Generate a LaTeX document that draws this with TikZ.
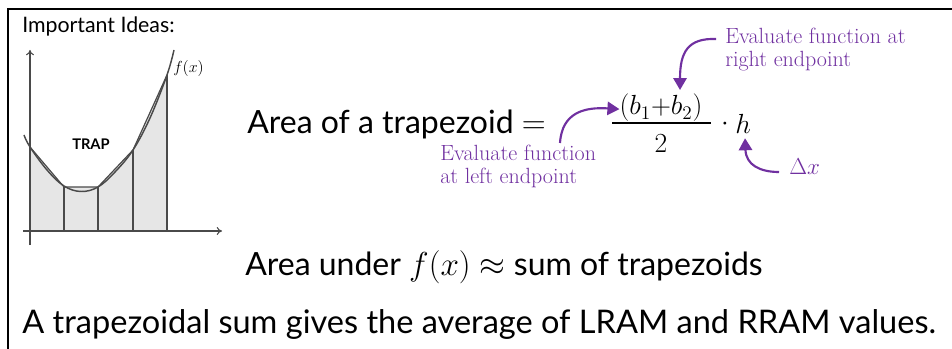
\documentclass[tikz,border=0pt]{standalone}
\usepackage{fontspec}
\usetikzlibrary{arrows.meta,calc}
\newfontfamily\avenir{Lato}
\definecolor{ppl}{HTML}{7030A0}
\definecolor{gline}{HTML}{4A4A4A}
\definecolor{gfill}{HTML}{E6E6E6}
\begin{document}
\begin{tikzpicture}[x=0.75pt,y=-0.75pt,
  bigtxt/.style={font=\avenir\fontsize{24}{28}\selectfont, inner sep=0pt, anchor=base west},
  mathtxt/.style={font=\fontsize{22}{26}\selectfont, inner sep=0pt},
  note/.style={text=ppl, font=\rmfamily\fontsize{16.5}{19}\selectfont, inner sep=0pt, align=left, anchor=north west},
  parrow/.style={draw=ppl, line width=1.6pt, -{Triangle[length=9pt,width=10pt]}},
  axis/.style={draw=gline, line width=0.8pt, -{To[length=4pt,width=6pt]}},
  gl/.style={draw=gline, line width=0.9pt}]
\useasboundingbox (0,0) rectangle (952,349);
% frame
\draw[line width=1.6pt] (8,349) -- (8,9) -- (952,9);
% title
\node[bigtxt, font=\avenir\fontsize{16}{18}\selectfont] (title) at (22,33) {Important Ideas:};
% graph
\fill[gfill] (30,231) -- (30,147) -- (64,187) -- (98,187) -- (133,150) -- (167,75) -- (167,231) -- cycle;
\draw[gl] (30,147) -- (64,187) -- (98,187) -- (133,150) -- (167,75);
\draw[gl] (64,231) -- (64,187) (98,231) -- (98,187) (133,231) -- (133,150) (167,231) -- (167,75);
\draw[gl, line width=1.1pt] plot[smooth, tension=0.6] coordinates {(24,135) (30,147) (47,170) (64,186) (81,191.5) (98,187) (115,172) (133,150) (150,118) (167,75) (174,50)};
\draw[axis] (30,245) -- (30,50);
\draw[axis] (23,231) -- (222,231);
\node[inner sep=0pt, anchor=west, font=\fontsize{12}{14}\selectfont] (fx) at (173,69) {$f(x)$};
\node[inner sep=0pt, font=\avenir\bfseries\fontsize{11}{13}\selectfont] (trap) at (91,144) {TRAP};
% formula
\node[bigtxt] (area) at (247,133) {Area of a trapezoid $=$};
\node[mathtxt, anchor=base] (num) at (661,115) {$(b_1{+}b_2)$};
\draw[line width=1.4pt] (612,123) -- (711,123);
\node[mathtxt, anchor=base, font=\fontsize{20}{24}\selectfont] (den) at (661,152) {$2$};
\node[mathtxt, anchor=base] (dot) at (725,131) {$\cdot$};
\node[mathtxt, anchor=base west] (h) at (735,133) {$h$};
% notes
\node[note] (lnote) at (440,145) {Evaluate function\\[-2pt]at left endpoint};
\node[note] (rnote) at (725,28) {Evaluate function at\\[-2pt]right endpoint};
\node[note, anchor=west, font=\fontsize{17}{19}\selectfont] (dx) at (789,167) {$\Delta x$};
\coordinate (ltail) at (560,143);
\coordinate (rtail) at (716,39);
\coordinate (dtail) at (779,172);
\draw[parrow] (ltail) .. controls (562,112) and (585,107) .. ($(num.west)+(0,1)$);
\draw[parrow] (rtail) .. controls (688,38) and (680,52) .. ($(num.north)+(19,-4)$);
\draw[parrow] (dtail) .. controls (760,172) and (746,165) .. ($(h.south)+(2,5)$);
% bottom lines
\node[bigtxt] (under) at (245,275) {Area under $f(x)\approx$ sum of trapezoids};
\node[bigtxt, font=\avenir\fontsize{24.4}{28}\selectfont] (sum) at (22,333) {A trapezoidal sum gives the average of LRAM and RRAM values.};
\end{tikzpicture}
\end{document}
